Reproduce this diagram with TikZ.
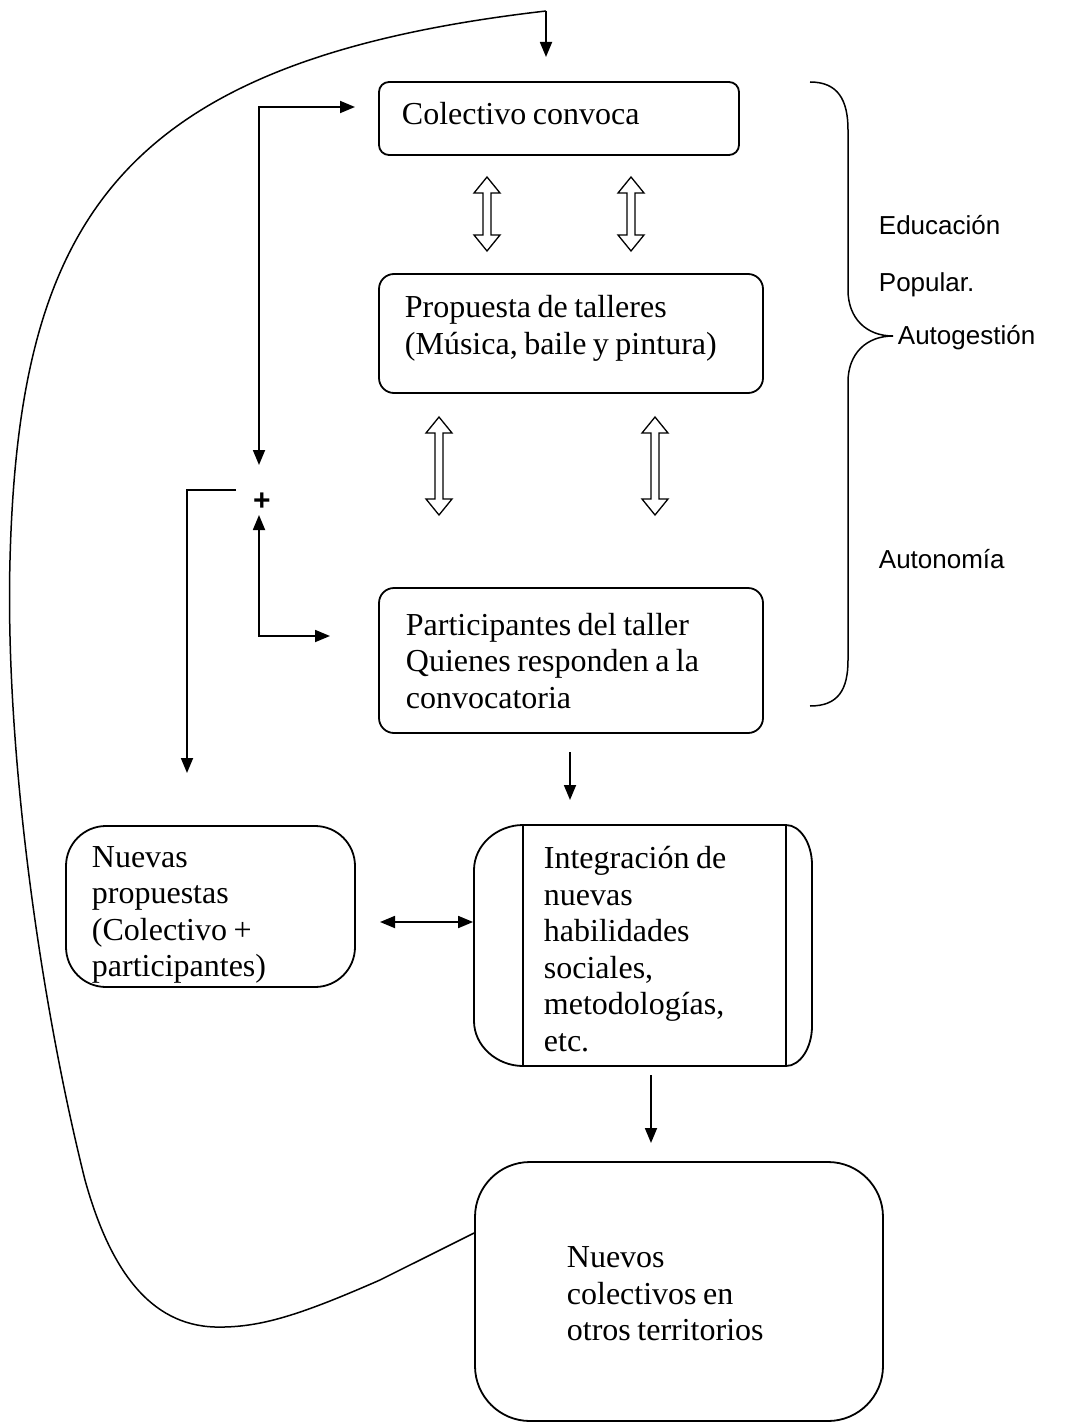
\documentclass[tikz,border=0pt]{standalone}
\usepackage{fontspec}
\setmainfont{Liberation Serif}
\setsansfont{Liberation Sans}
\usetikzlibrary{arrows.meta}
\newcommand\bodyfont{\fontsize{32}{36.6}\selectfont\spaceskip=6.5pt plus 2pt minus 1pt\relax}
\newcommand\labfont{\sffamily\fontsize{26}{30}\selectfont}
\newcommand\hollowarr[3]{%
  \draw[hollow] (#1,#2) -- ++(13,16) -- ++(-9,0) -- (#1+4,#3-16) -- ++(9,0)
    -- (#1,#3) -- ++(-13,-16) -- ++(9,0) -- (#1-4,#2+16) -- ++(-9,0) -- cycle;}
\begin{document}
\begin{tikzpicture}[x=1pt,y=-1pt,
  line width=1.8pt,
  box/.style={draw, line width=1.8pt, inner sep=0pt},
  txt/.style={font=\bodyfont, align=left, anchor=west, inner sep=0pt},
  arr/.style={-{Triangle[length=15pt,width=12pt]}, line width=1.8pt},
  arrboth/.style={{Triangle[length=15pt,width=12pt]}-{Triangle[length=15pt,width=12pt]}, line width=1.8pt},
  hollow/.style={draw, fill=white, line width=1.3pt, line join=miter},
  lab/.style={anchor=base west, font=\labfont, inner sep=0pt}]
\useasboundingbox (0,0) rectangle (1073,1423);

% boxes
\node[box, rounded corners=10pt, minimum width=360pt, minimum height=73pt] (colect) at (559,118.5) {};
\node[txt] (colectT) at (401,114) {Colectivo convoca};

\node[box, rounded corners=15pt, minimum width=384pt, minimum height=119pt] (prop) at (571,333.5) {};
\node[txt] (propT) at (404,328.5) {Propuesta de talleres\\(Música, baile y pintura)};

\node[box, rounded corners=15pt, minimum width=384pt, minimum height=145pt] (part) at (571,660.5) {};
\node[txt] (partT) at (405,661) {Participantes del taller\\Quienes responden a la\\convocatoria};

\node[box, rounded corners=40pt, minimum width=289pt, minimum height=161pt] (nuevas) at (210.5,906.5) {};
\node[txt] (nuevasT) at (91,915) {Nuevas\\propuestas\\(Colectivo +\\participantes)};

\node[box, rounded corners=55pt, minimum width=408pt, minimum height=259pt] (nuevoscol) at (679,1291.5) {};
\node[txt] (nuevoscolT) at (566,1294) {Nuevos\\colectivos en\\otros territorios};

% integration box (rounded ears)
\node[minimum width=338pt, minimum height=241pt, inner sep=0pt] (integ) at (643,945.5) {};
\draw (523,825) -- (786,825)
  .. controls (800,825) and (812,843) .. (812,865) -- (812,1026)
  .. controls (812,1048) and (800,1066) .. (786,1066) -- (523,1066)
  .. controls (497,1066) and (474,1046) .. (474,1021) -- (474,870)
  .. controls (474,845) and (497,825) .. (523,825) -- cycle;
\draw (523,825) -- (523,1066);
\draw (786,825) -- (786,1066);
\node[txt] (integT) at (543,949)
  {Integración de\\nuevas\\habilidades\\sociales,\\metodologías,\\etc.};

% hollow double arrows
\hollowarr{487}{177}{251}
\hollowarr{631}{177}{251}
\hollowarr{439}{417}{515}
\hollowarr{655}{417}{515}

% plus
\node[font=\sffamily\bfseries\fontsize{30}{30}\selectfont, inner sep=0pt] (plus) at (262,502) {+};

% connectors
\coordinate (k1) at (259,107);
\coordinate (k1a) at (355,107);
\coordinate (k1b) at (259,465);
\draw[arrboth] (k1b) -- (k1) -- (k1a);

\coordinate (k2) at (259,636);
\coordinate (k2a) at (259,515);
\coordinate (k2b) at (330,636);
\draw[arrboth] (k2a) -- (k2) -- (k2b);

\coordinate (k3) at (236,490);
\coordinate (k3a) at (187,490);
\coordinate (k3b) at (187,773);
\draw[arr] (k3) -- (k3a) -- (k3b);

\coordinate (k4) at (570,752);
\coordinate (k4b) at (570,800);
\draw[arr] (k4) -- (k4b);

\coordinate (k5) at (380,922);
\draw[arrboth] (k5) -- (integ.west |- k5);

\coordinate (k6) at (651,1075);
\coordinate (k6b) at (651,1143);
\draw[arr] (k6) -- (k6b);

% big return curve
\coordinate (k7) at (546,11);
\coordinate (k7b) at (546,57);
\draw[line width=1.5pt] (nuevoscol.west |- 0,1233) -- (380,1280)
  .. controls (300,1315) and (260,1328) .. (215,1327)
  .. controls (150,1325) and (110,1270) .. (85,1180)
  .. controls (40,1000) and (5,750) .. (10,560)
  .. controls (19,218) and (120,60) .. (k7);
\draw[arr] (k7) -- (k7b);

% brace
\draw[line width=1.5pt] (810,82) .. controls (838,82) and (848,100) .. (848,130)
  -- (848,290) .. controls (848,318) and (866,336) .. (893,336)
  .. controls (866,336) and (848,354) .. (848,382)
  -- (848,660) .. controls (848,690) and (838,706) .. (810,706);

% labels
\node[lab] (l1) at (878,235) {Educación};
\node[lab] (l2) at (878,291) {Popular.};
\node[lab] (l3) at (897,344) {Autogestión};
\node[lab] (l4) at (878,568) {Autonomía};
\end{tikzpicture}
\end{document}
